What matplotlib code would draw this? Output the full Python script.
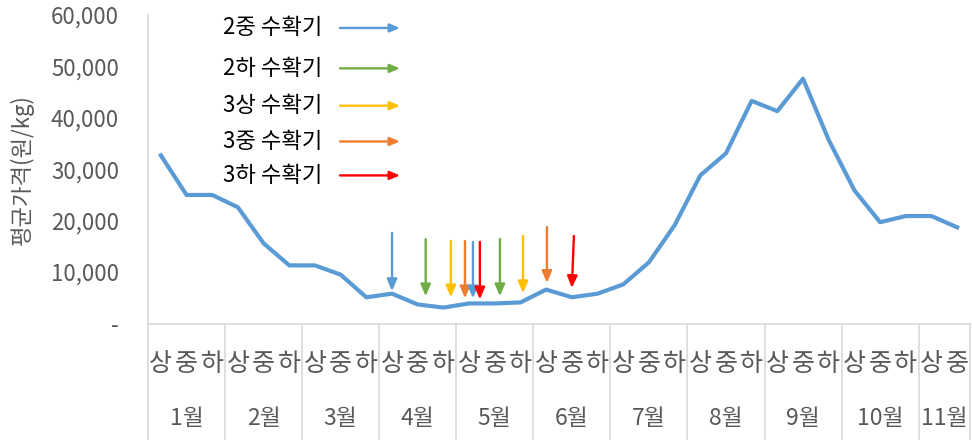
import matplotlib.pyplot as plt
import matplotlib.transforms as mtransforms
import numpy as np

plt.rcParams['font.family'] = ['Noto Sans CJK KR', 'DejaVu Sans']

# 순별 평균가격 (원/kg)
months = ['1월', '2월', '3월', '4월', '5월', '6월', '7월', '8월', '9월', '10월', '11월']
dekads = ['상', '중', '하']
prices = [32700, 25000, 25000, 22600, 15600, 11300, 11300, 9500, 5100,
          5800, 3700, 3100, 3900, 3900, 4100, 6600, 5100, 5800,
          7600, 11900, 19100, 28800, 33100, 43300, 41300, 47600, 35700,
          25900, 19700, 20900, 20900, 18700]

# 수확기 화살표: 위치(순 단위), 시작값, 끝값
arrow_names = ['2중 수확기', '2하 수확기', '3상 수확기', '3중 수확기', '3하 수확기']
arrow_colors = ['#5B9BD5', '#70AD47', '#FFC000', '#ED7D31', '#FF0000']
arrow_kind = [0, 1, 2, 3, 0, 4, 1, 2, 3, 4]
arrow_x0 = [9.50, 10.81, 11.79, 12.34, 12.65, 12.92, 13.70, 14.60, 15.53, 16.58]
arrow_x1 = [9.50, 10.81, 11.79, 12.34, 12.65, 12.92, 13.70, 14.60, 15.53, 16.50]
arrow_top = [17600, 16400, 16050, 16050, 15860, 15860, 16440, 17020, 18770, 17020]
arrow_tip = [6300, 5300, 5100, 4900, 4900, 4700, 5300, 5900, 7900, 6900]

n = len(prices)
xs = np.arange(n) + 0.5

fig = plt.figure(figsize=(9.72, 4.4), dpi=100)
ax = fig.add_axes([148 / 972, 1 - 323.5 / 440, 822 / 972, 308.5 / 440])

ax.plot(xs, prices, color='#5B9BD5', lw=3.0, solid_joinstyle='round')

for k, xa, xb, yt, yb in zip(arrow_kind, arrow_x0, arrow_x1, arrow_top, arrow_tip):
    ax.annotate('', xy=(xb, yb), xytext=(xa, yt),
                arrowprops=dict(arrowstyle='-|>,head_length=0.7,head_width=0.3',
                                color=arrow_colors[k], lw=1.7, shrinkA=0, shrinkB=0))

# 범례(텍스트 + 화살표)
rows = [0.958, 0.827, 0.706, 0.590, 0.480]
for name, col, yy in zip(arrow_names, arrow_colors, rows):
    ax.text(0.2117, yy, name, transform=ax.transAxes, ha='right', va='center',
            fontsize=16, color='#000000')
    ax.annotate('', xy=(0.3066, yy), xytext=(0.2336, yy),
                xycoords='axes fraction', textcoords='axes fraction',
                arrowprops=dict(arrowstyle='-|>,head_length=0.6,head_width=0.25',
                                color=col, lw=1.7, shrinkA=0, shrinkB=0))

ax.set_xlim(0, n)
ax.set_ylim(0, 60000)
ax.set_yticks(range(0, 60001, 10000))
ax.set_yticklabels(['-'] + [f'{v:,}' for v in range(10000, 60001, 10000)])
ax.tick_params(axis='y', length=0, pad=21, labelsize=16, labelcolor='#595959')

ax.set_xticks(xs)
ax.set_xticklabels([dekads[i % 3] for i in range(n)])
ax.tick_params(axis='x', length=0, pad=20, labelsize=18, labelcolor='#595959')

trans = mtransforms.blended_transform_factory(ax.transData, ax.transAxes)
for m, name in enumerate(months):
    c = m * 3 + min(3, n - m * 3) / 2
    ax.text(c, -0.308, name, transform=trans, ha='center', va='center',
            fontsize=16.5, color='#595959')

bounds = list(range(0, n, 3)) + [n]
for b in bounds:
    ax.plot([b, b], [0, -0.4], transform=trans, color='#D9D9D9', lw=1.2,
            clip_on=False)

ax.set_ylabel('평균가격(원/kg)', fontsize=16, color='#595959')
ax.yaxis.set_label_coords(-(148 - 34) / 822, 0.5)

for s in ['top', 'right']:
    ax.spines[s].set_visible(False)
for s in ['left', 'bottom']:
    ax.spines[s].set_color('#D9D9D9')
    ax.spines[s].set_linewidth(1.2)

fig.savefig('out.png', dpi=100)
